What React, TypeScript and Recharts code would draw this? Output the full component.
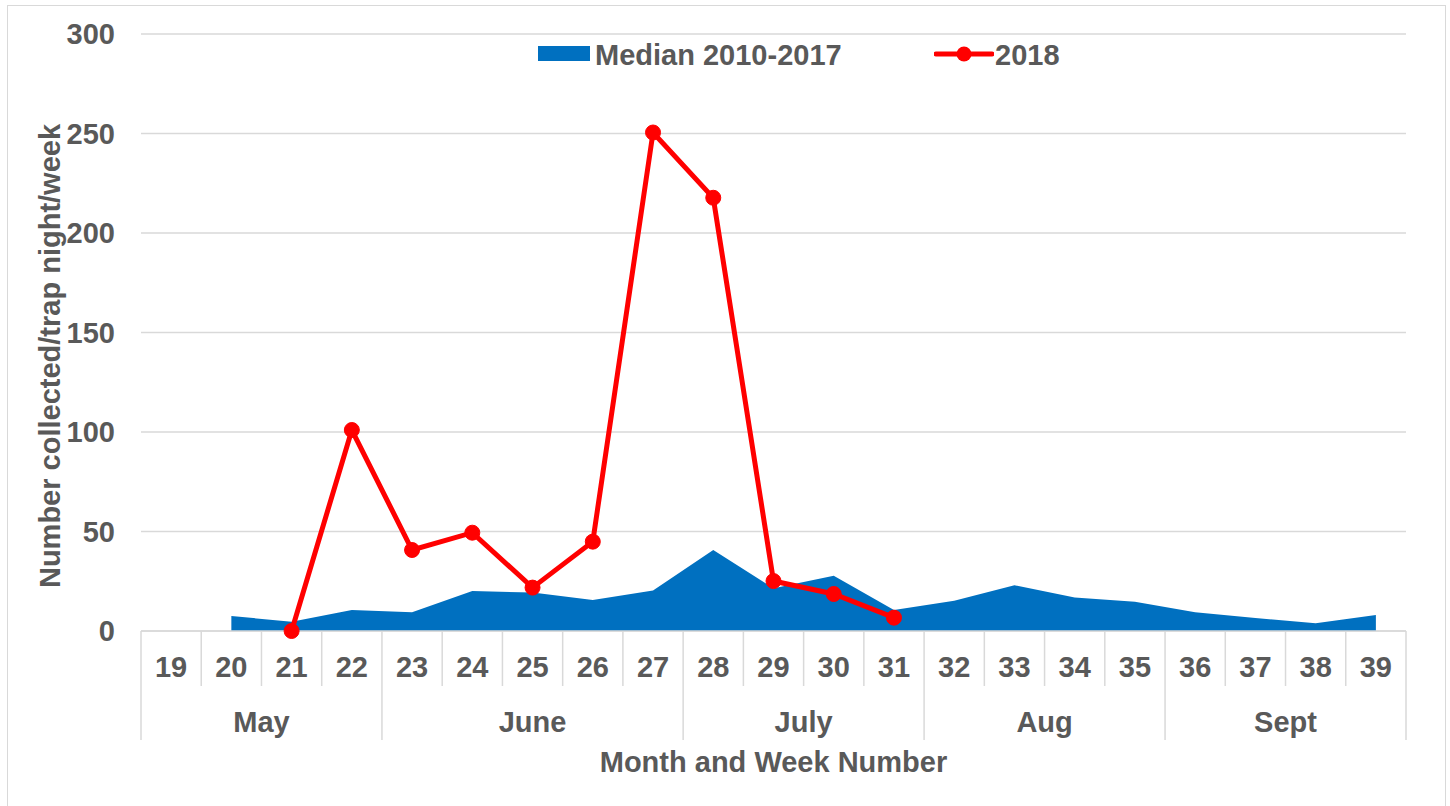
import { ComposedChart, Area, Line, XAxis, YAxis, CartesianGrid, Legend } from 'recharts';

// week numbers on the x axis
const weeks = [19, 20, 21, 22, 23, 24, 25, 26, 27, 28, 29, 30, 31, 32, 33, 34, 35, 36, 37, 38, 39];

// median 2010-2017 (area), no value for week 19
const median = [null, 7.5, 4.7, 10.6, 9.4, 20.1, 19.3, 15.6, 20.4, 40.7, 21.5, 27.8, 10.6, 15.2, 23, 16.8, 14.7, 9.4, 6.5, 3.9, 8.0];

// 2018 counts (line), weeks 21-31 only
const counts2018 = [null, null, 0, 101, 40.7, 49.4, 21.8, 44.9, 250.5, 217.7, 25.1, 18.6, 6.7, null, null, null, null, null, null, null, null];

// month groups under the week labels
const monthNames = ['May', 'June', 'July', 'Aug', 'Sept'];
const monthFirstWeek = [19, 23, 28, 32, 36];
const monthLastWeek = [22, 27, 31, 35, 39];

const yTicks = [0, 50, 100, 150, 200, 250, 300];

const data = weeks.map((week, i) => ({ week, median: median[i], y2018: counts2018[i] }));

const TEXT = '#595959';
const GRID = '#D9D9D9';
const FONT = '"Liberation Sans", Arial, sans-serif';

const PLOT_LEFT = 141;
const PLOT_RIGHT = 1406;
const BAND = (PLOT_RIGHT - PLOT_LEFT) / weeks.length;

const WeekTick = (props: any) => {
  const { x, y, payload } = props;
  const week = payload.value;
  const m = monthFirstWeek.indexOf(week);
  const isLast = week === weeks[weeks.length - 1];
  return (
    <g>
      <line x1={x - BAND / 2} x2={x - BAND / 2} y1={y} y2={y + (m >= 0 ? 109 : 55)} stroke={GRID} strokeWidth={1.5} />
      {isLast && <line x1={x + BAND / 2} x2={x + BAND / 2} y1={y} y2={y + 109} stroke={GRID} strokeWidth={1.5} />}
      <text x={x} y={y + 46} textAnchor="middle" fill={TEXT} fontSize={29} fontWeight="bold" fontFamily={FONT}>
        {week}
      </text>
      {m >= 0 && (
        <text
          x={x + ((monthLastWeek[m] - monthFirstWeek[m]) * BAND) / 2}
          y={y + 101}
          textAnchor="middle"
          fill={TEXT}
          fontSize={29}
          fontWeight="bold"
          fontFamily={FONT}
        >
          {monthNames[m]}
        </text>
      )}
    </g>
  );
};

// zero-height legend so it doesn't push the plot down
const LegendContent = () => (
  <div style={{ position: 'relative', height: 0, fontFamily: FONT, fontSize: 29, fontWeight: 'bold', color: TEXT }}>
    <div style={{ position: 'absolute', left: 538, top: 8, width: 52, height: 15, background: '#0070C0' }} />
    <div style={{ position: 'absolute', left: 595, top: 0, lineHeight: '34px', whiteSpace: 'nowrap' }}>Median 2010-2017</div>
    <svg style={{ position: 'absolute', left: 934, top: 6 }} width={60} height={20}>
      <line x1={2} x2={58} y1={10} y2={10} stroke="#FF0000" strokeWidth={5} strokeLinecap="round" />
      <circle cx={30} cy={10} r={7.5} fill="#FF0000" />
    </svg>
    <div style={{ position: 'absolute', left: 995, top: 0, lineHeight: '34px' }}>2018</div>
  </div>
);

const App = () => {
  return (
    <div style={{ position: 'absolute', left: 0, top: 0, width: 1450, height: 806, background: 'white', overflow: 'hidden' }}>
      <div style={{ position: 'absolute', left: 7, top: 5, width: 1437, height: 820, border: `1.5px solid ${GRID}` }} />
      <ComposedChart width={1450} height={806} data={data} margin={{ top: 34, right: 1450 - PLOT_RIGHT, bottom: 0, left: 0 }}>
        <CartesianGrid vertical={false} stroke={GRID} strokeWidth={1.5} />
        <XAxis
          dataKey="week"
          type="number"
          domain={[18.5, 39.5]}
          ticks={weeks}
          interval={0}
          height={175}
          tickLine={false}
          tickSize={0}
          tickMargin={0}
          axisLine={{ stroke: GRID, strokeWidth: 1.5 }}
          tick={<WeekTick />}
          label={{
            content: () => (
              <text x={(PLOT_LEFT + PLOT_RIGHT) / 2} y={772} textAnchor="middle" fill={TEXT} fontSize={29} fontWeight="bold" fontFamily={FONT}>
                Month and Week Number
              </text>
            ),
          }}
        />
        <YAxis
          domain={[0, 300]}
          ticks={yTicks}
          width={PLOT_LEFT}
          axisLine={false}
          tickLine={false}
          tickMargin={20}
          tick={{ fill: TEXT, fontSize: 29, fontWeight: 'bold', fontFamily: FONT }}
          label={{
            content: () => (
              <text
                x={60}
                y={356}
                transform="rotate(-90 60 356)"
                textAnchor="middle"
                fill={TEXT}
                fontSize={29}
                fontWeight="bold"
                fontFamily={FONT}
              >
                Number collected/trap night/week
              </text>
            ),
          }}
        />
        <Legend verticalAlign="top" wrapperStyle={{ top: 38, left: 0, width: 1450, height: 0 }} content={<LegendContent />} />
        <Area dataKey="median" name="Median 2010-2017" fill="#0070C0" fillOpacity={1} stroke="none" isAnimationActive={false} />
        <Line
          dataKey="y2018"
          name="2018"
          stroke="#FF0000"
          strokeWidth={5}
          dot={{ r: 7.5, fill: '#FF0000', stroke: '#FF0000', strokeWidth: 1 }}
          activeDot={false}
          isAnimationActive={false}
        />
      </ComposedChart>
    </div>
  );
};

export default App;
